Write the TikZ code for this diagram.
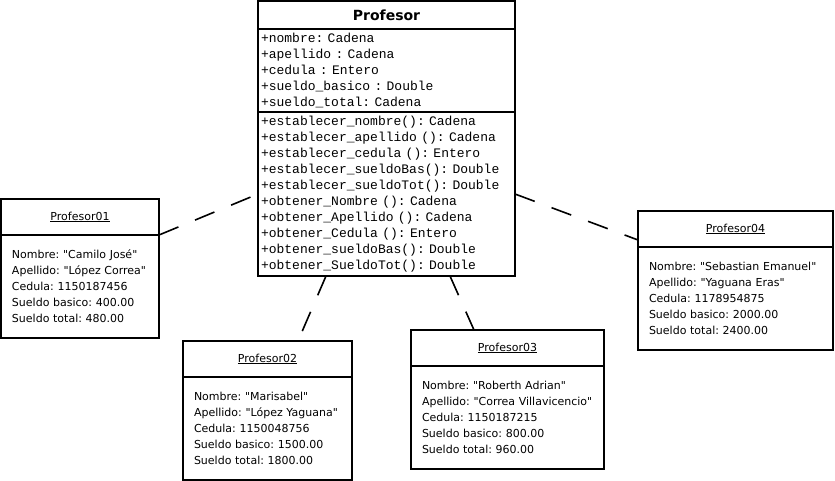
\documentclass[tikz,border=0pt]{standalone}
\usepackage{fontspec}
\setmainfont{DejaVu Sans}[Ligatures=TeXOff]
\newfontfamily\mono{Liberation Mono}[Ligatures=TeXOff]
\usetikzlibrary{positioning}
\frenchspacing
\hyphenpenalty=10000

\begin{document}
\begin{tikzpicture}[x=1pt, y=-1pt]
	\tikzset{caja/.style={draw, line width=1.6pt, outer sep=0pt},
		titulo/.style={caja, minimum height=28pt, font=\bfseries\fontsize{14}{16}\selectfont},
		lista/.style={caja, align=left, inner xsep=3pt, inner ysep=0pt, font=\mono\fontsize{13}{16}\selectfont},
		cabecera/.style={caja, minimum height=36pt, font=\fontsize{11}{16}\selectfont},
		datos/.style={caja, align=left, inner xsep=11pt, inner ysep=0pt, minimum height=103pt, font=\fontsize{11}{16}\selectfont},
		enlace/.style={line width=1.6pt, dash pattern=on 21pt off 18pt}}
	\useasboundingbox (0,0) rectangle (835,481);

	\node[titulo, minimum width=257pt] (profesor) at (386.5,15) {Profesor};
	\node[lista, text width=251pt, minimum height=83pt, below=0pt of profesor] (atributos) {+nombre: Cadena\\+apellido : Cadena\\+cedula : Entero\\+sueldo\_basico : Double\\+sueldo\_total: Cadena};
	\node[lista, text width=251pt, minimum height=164pt, below=0pt of atributos] (metodos) {+establecer\_nombre(): Cadena\\+establecer\_apellido (): Cadena\\+establecer\_cedula (): Entero\\+establecer\_sueldoBas(): Double\\+establecer\_sueldoTot(): Double\\+obtener\_Nombre (): Cadena\\+obtener\_Apellido (): Cadena\\+obtener\_Cedula (): Entero\\+obtener\_sueldoBas(): Double\\+obtener\_SueldoTot(): Double};

	\node[cabecera, minimum width=158pt] (p01) at (80,217) {\underline{Profesor01}};
	\node[datos, text width=136pt, below=0pt of p01] (p01d) {Nombre: "Camilo José"\\Apellido: "López Correa"\\Cedula: 1150187456\\Sueldo basico: 400.00\\Sueldo total: 480.00};

	\node[cabecera, minimum width=169pt] (p02) at (267.5,359) {\underline{Profesor02}};
	\node[datos, text width=147pt, below=0pt of p02] (p02d) {Nombre: "Marisabel"\\Apellido: "López Yaguana"\\Cedula: 1150048756\\Sueldo basico: 1500.00\\Sueldo total: 1800.00};

	\node[cabecera, minimum width=193pt] (p03) at (507.5,348) {\underline{Profesor03}};
	\node[datos, text width=171pt, below=0pt of p03] (p03d) {Nombre: "Roberth Adrian"\\Apellido: "Correa Villavicencio"\\Cedula: 1150187215\\Sueldo basico: 800.00\\Sueldo total: 960.00};

	\node[cabecera, minimum width=195pt] (p04) at (735.5,229) {\underline{Profesor04}};
	\node[datos, text width=173pt, below=0pt of p04] (p04d) {Nombre: "Sebastian Emanuel"\\Apellido: "Yaguana Eras"\\Cedula: 1178954875\\Sueldo basico: 2000.00\\Sueldo total: 2400.00};

	\draw[enlace] (p01.south east) -- (metodos.west);
	\draw[enlace] ([xshift=-60.5pt]metodos.south) -- ([xshift=30.5pt]p02.north);
	\draw[enlace] ([xshift=63.5pt]metodos.south) -- ([xshift=-33.5pt]p03.north);
	\draw[enlace] (metodos.east) -- ([yshift=7pt]p04.south west);
\end{tikzpicture}
\end{document}
